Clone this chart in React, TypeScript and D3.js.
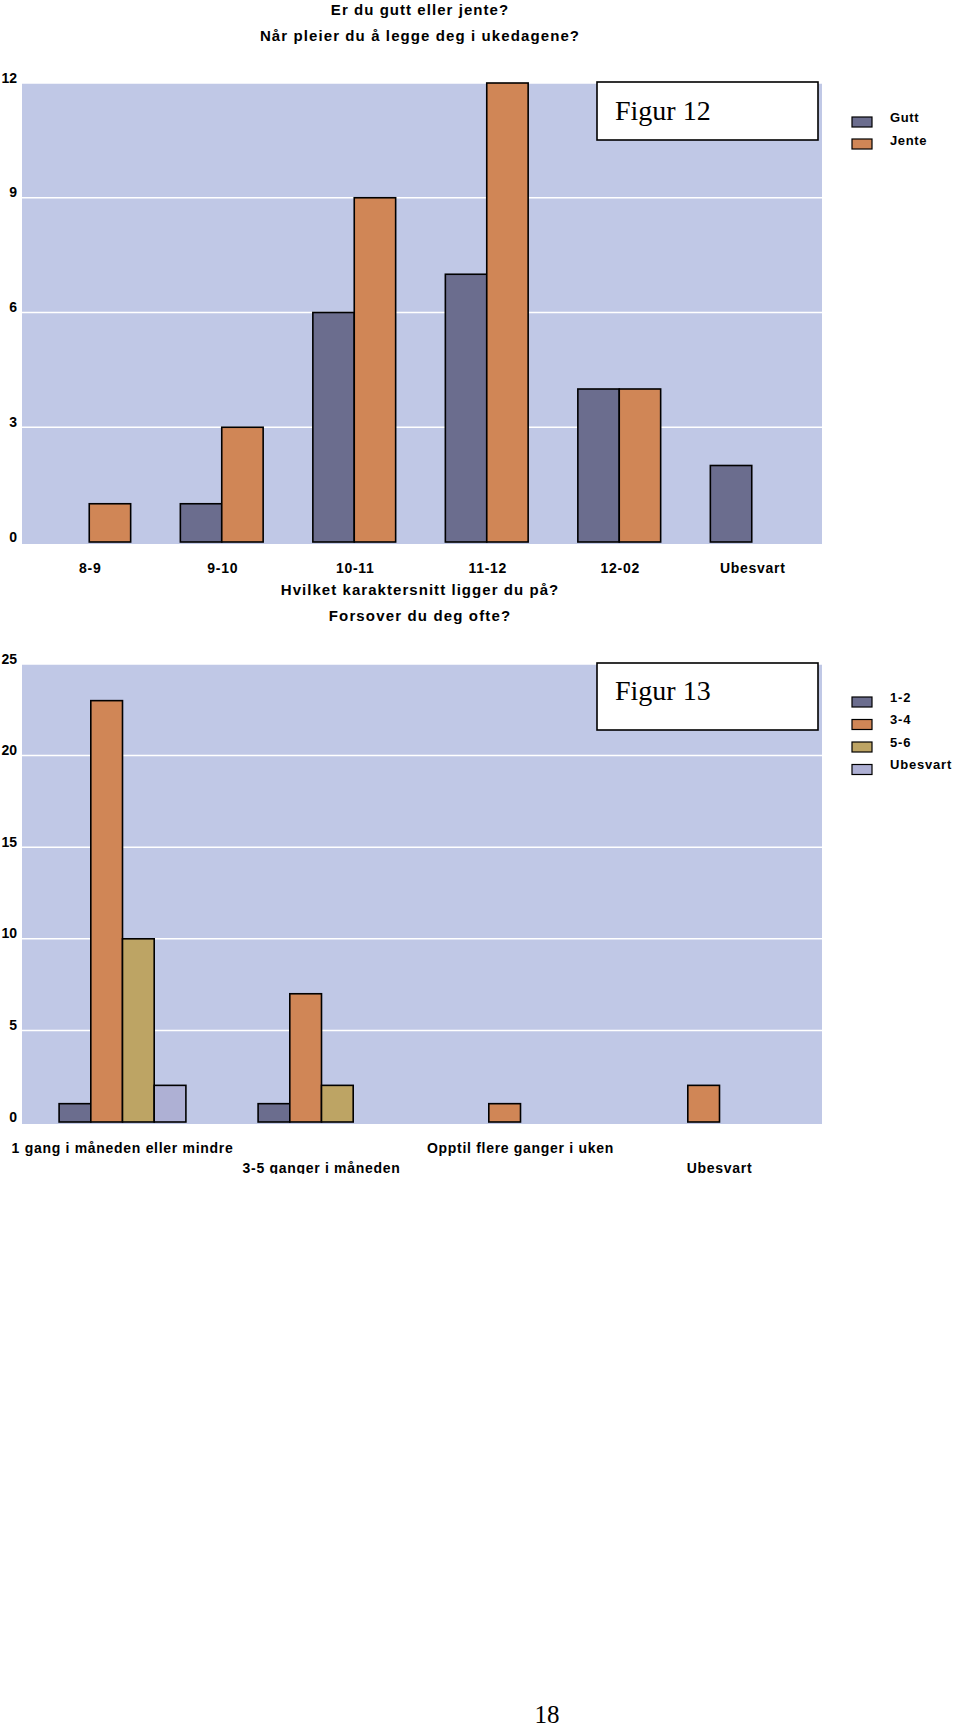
import React from "react";
import * as d3 from "d3";

const titles1 = ["Er du gutt eller jente?", "Når pleier du å legge deg i ukedagene?"];
const cats1 = ["8-9", "9-10", "10-11", "11-12", "12-02", "Ubesvart"];
const series1 = ["Gutt", "Jente"];
const gutt = [0, 1, 6, 7, 4, 2];
const jente = [1, 3, 9, 12, 4, 0];
const ticks1 = [0, 3, 6, 9, 12];

const titles2 = ["Hvilket karaktersnitt ligger du på?", "Forsover du deg ofte?"];
const cats2 = ["1 gang i måneden eller mindre", "3-5 ganger i måneden", "Opptil flere ganger i uken", "Ubesvart"];
const series2 = ["1-2", "3-4", "5-6", "Ubesvart"];
const s12 = [1, 1, 0, 0];
const s34 = [23, 7, 1, 2];
const s56 = [10, 2, 0, 0];
const sUb = [2, 0, 0, 0];
const ticks2 = [0, 5, 10, 15, 20, 25];

const colors1 = ["#6b6d8e", "#d08656"];
const colors2 = ["#6b6d8e", "#d08656", "#bda464", "#aeb0d4"];
const BG = "#c0c8e6";
const SANS = "'Liberation Sans Narrow', 'Liberation Sans', Arial, sans-serif";
const SERIF = "'Liberation Serif', 'Times New Roman', serif";

export default function App() {
  // Chart 1
  const y1 = d3.scaleLinear().domain([0, 12]).range([542, 83]);
  const x1 = d3.scaleBand().domain(cats1).range([23, 818]);
  const bw1 = 41.4;
  const xs1 = d3.scaleBand().domain(series1).range([0, bw1 * 2]);
  const data1 = [gutt, jente];

  // Chart 2
  const y2 = d3.scaleLinear().domain([0, 25]).range([1122, 664]);
  const x2 = d3.scaleBand().domain(cats2).range([23, 819]);
  const bw2 = 31.7;
  const xs2 = d3.scaleBand().domain(series2).range([0, bw2 * 4]);
  const data2 = [s12, s34, s56, sUb];

  return (
    <svg width={960} height={1730} style={{ display: "block", position: "absolute", left: 0, top: 0 }}>
      <rect x={0} y={0} width={960} height={1730} fill="#fff" />
      <defs>
        <clipPath id="clip2">
          <rect x={0} y={640} width={960} height={534} />
        </clipPath>
      </defs>

      {/* Chart 1 */}
      <g fontFamily={SANS} fontWeight="bold" fill="#000">
        <text x={420} y={9} textAnchor="middle" dominantBaseline="central" fontSize={15} letterSpacing={1.05}>{titles1[0]}</text>
        <text x={420} y={35} textAnchor="middle" dominantBaseline="central" fontSize={15} letterSpacing={1.1}>{titles1[1]}</text>
      </g>
      <rect x={22} y={y1(12)} width={800} height={y1(0) - y1(12) + 2} fill={BG} />
      {ticks1.map((t) => (
        <g key={"g1" + t}>
          {t > 0 && <line x1={22} x2={822} y1={y1(t)} y2={y1(t)} stroke="#fff" strokeWidth={1.5} />}
          <text x={17} y={y1(t) - 5.5} textAnchor="end" dominantBaseline="central" fontFamily={SANS} fontWeight="bold" fontSize={14}>{t}</text>
        </g>
      ))}
      {cats1.map((c, i) => (
        <g key={"c1" + c} transform={`translate(${(x1(c) ?? 0) + (x1.bandwidth() - bw1 * 2) / 2},0)`}>
          {series1.map((s, j) =>
            data1[j][i] > 0 ? (
              <rect key={s} x={xs1(s)} y={y1(data1[j][i])} width={xs1.bandwidth()} height={y1(0) - y1(data1[j][i])}
                fill={colors1[j]} stroke="#000" strokeWidth={1.6} />
            ) : null
          )}
        </g>
      ))}
      {cats1.map((c) => (
        <text key={"l1" + c} x={(x1(c) ?? 0) + x1.bandwidth() / 2 + 1} y={568} textAnchor="middle" dominantBaseline="central" fontFamily={SANS} fontWeight="bold" fontSize={14} letterSpacing={0.7}>{c}</text>
      ))}
      <rect x={597} y={82} width={221} height={58} fill="#fff" stroke="#000" strokeWidth={1.6} />
      <text x={615} y={120} fontFamily={SERIF} fontSize={28}>Figur 12</text>
      {series1.map((s, j) => (
        <g key={"lg1" + s}>
          <rect x={852} y={117 + j * 22} width={20} height={10} fill={colors1[j]} stroke="#000" strokeWidth={1.2} />
          <text x={890} y={117 + j * 23} dominantBaseline="central" fontFamily={SANS} fontWeight="bold" fontSize={13} letterSpacing={0.6}>{s}</text>
        </g>
      ))}

      {/* Chart 2 */}
      <g fontFamily={SANS} fontWeight="bold">
        <text x={420} y={589} textAnchor="middle" dominantBaseline="central" fontSize={15} letterSpacing={1.05}>{titles2[0]}</text>
        <text x={420} y={615} textAnchor="middle" dominantBaseline="central" fontSize={15} letterSpacing={1.15}>{titles2[1]}</text>
      </g>
      <g clipPath="url(#clip2)">
        <rect x={22} y={y2(25)} width={800} height={y2(0) - y2(25) + 2} fill={BG} />
        {ticks2.map((t) => (
          <g key={"g2" + t}>
            {t > 0 && <line x1={22} x2={822} y1={y2(t)} y2={y2(t)} stroke="#fff" strokeWidth={1.5} />}
            <text x={17} y={y2(t) - 5.5} textAnchor="end" dominantBaseline="central" fontFamily={SANS} fontWeight="bold" fontSize={14}>{t}</text>
          </g>
        ))}
        {cats2.map((c, i) => (
          <g key={"c2" + c} transform={`translate(${(x2(c) ?? 0) + (x2.bandwidth() - bw2 * 4) / 2},0)`}>
            {series2.map((s, j) =>
              data2[j][i] > 0 ? (
                <rect key={s} x={xs2(s)} y={y2(data2[j][i])} width={xs2.bandwidth()} height={y2(0) - y2(data2[j][i])}
                  fill={colors2[j]} stroke="#000" strokeWidth={1.6} />
              ) : null
            )}
          </g>
        ))}
        {cats2.map((c, i) => (
          <text key={"l2" + c} x={(x2(c) ?? 0) + x2.bandwidth() / 2} y={i % 2 === 0 ? 1148 : 1168} textAnchor="middle"
            dominantBaseline="central" fontFamily={SANS} fontWeight="bold" fontSize={14} letterSpacing={0.7}>{c}</text>
        ))}
      </g>
      <rect x={597} y={663} width={221} height={67} fill="#fff" stroke="#000" strokeWidth={1.6} />
      <text x={615} y={700} fontFamily={SERIF} fontSize={28}>Figur 13</text>
      {series2.map((s, j) => (
        <g key={"lg2" + s}>
          <rect x={852} y={697 + j * 22.5} width={20} height={10} fill={colors2[j]} stroke="#000" strokeWidth={1.2} />
          <text x={890} y={697 + j * 22.5} dominantBaseline="central" fontFamily={SANS} fontWeight="bold" fontSize={13} letterSpacing={0.8}>{s}</text>
        </g>
      ))}

      <text x={547} y={1723} textAnchor="middle" fontFamily={SERIF} fontSize={25}>18</text>
    </svg>
  );
}
